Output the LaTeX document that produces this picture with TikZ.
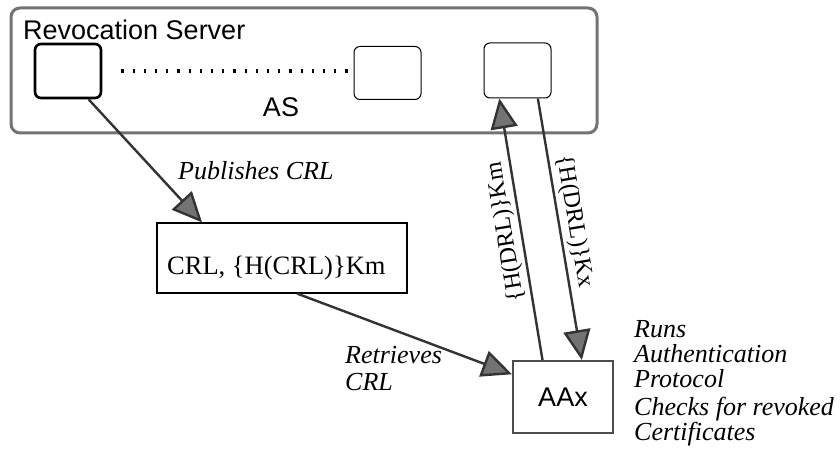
\documentclass[tikz,border=0pt]{standalone}
\usepackage{fontspec}
\setmainfont{Liberation Serif}
\newfontfamily\helv{Liberation Sans}
\usetikzlibrary{arrows.meta}

\begin{document}
\begin{tikzpicture}[x=1pt,y=-1pt,
        sans/.style={font=\helv\fontsize{27}{27}\selectfont},
        note/.style={font=\itshape\fontsize{26}{25}\selectfont,align=left,inner sep=0pt},
        srv/.style={draw,rounded corners=6pt,line width=1pt,inner sep=0pt},
        msg/.style={-{Triangle[length=30pt,width=27pt,fill=black!55]},draw=black!80,line width=2.4pt},
        keylbl/.style={font=\fontsize{24}{24}\selectfont,sloped,inner sep=3pt}]
    \useasboundingbox (0,0) rectangle (840,465);

    \node[draw=black!55,line width=3pt,rounded corners=9pt,minimum width=586pt,minimum height=125pt] at (304,70.5) (rs) {};
    \node[sans,anchor=base west,inner sep=0pt] at (23,40) (rstitle) {Revocation Server};
    \node[srv,line width=2.6pt,minimum width=66pt,minimum height=54pt] at (68,71) (lb) {};
    \node[srv,minimum width=67pt,minimum height=53pt] at (387.5,73) (mb) {};
    \node[srv,minimum width=67pt,minimum height=55pt] at (517.5,70.5) (rb) {};
    \node[sans,anchor=base,inner sep=0pt] at (281,117) (as) {AS};
    \draw[line width=4.5pt,dash pattern=on 2.2pt off 9pt,shorten <=19pt,shorten >=2pt] (lb.east) -- (lb.east -| mb.west);

    \node[draw,line width=1.2pt,minimum width=250pt,minimum height=70pt] at (282,258) (crl) {};
    \node[font=\fontsize{26.5}{26.5}\selectfont,anchor=base west,inner sep=0pt] at (167,274) (crltext) {CRL, \{H(CRL)\}Km};
    \node[draw=black!70,line width=2pt,minimum width=100pt,minimum height=72pt,sans] at (563,397) (aa) {AAx};

    \node[note,anchor=base west] at (178,180) (pub) {Publishes CRL};
    \node[note,anchor=base west,font=\itshape\fontsize{26}{27}\selectfont] at (345,390) (ret) {Retrieves\\CRL};
    \node[note,anchor=base west] at (634,387) (runs) {Runs\\Authentication\\Protocol};
    \node[note,anchor=base west] at (634,440) (chk) {Checks for revoked\\Certificates};

    \draw[msg] (lb.-54) -- (crl.156);
    \draw[msg] (crl.-67) -- (aa.156);
    \draw[msg] (aa.119) -- node[keylbl,above,allow upside down] {\{H(DRL)\}Km} (rb.237.5);
    \draw[msg] (rb.-54.7) -- node[keylbl,above,pos=0.48] {\{H(DRL)\}Kx} (aa.63.4);
\end{tikzpicture}
\end{document}
